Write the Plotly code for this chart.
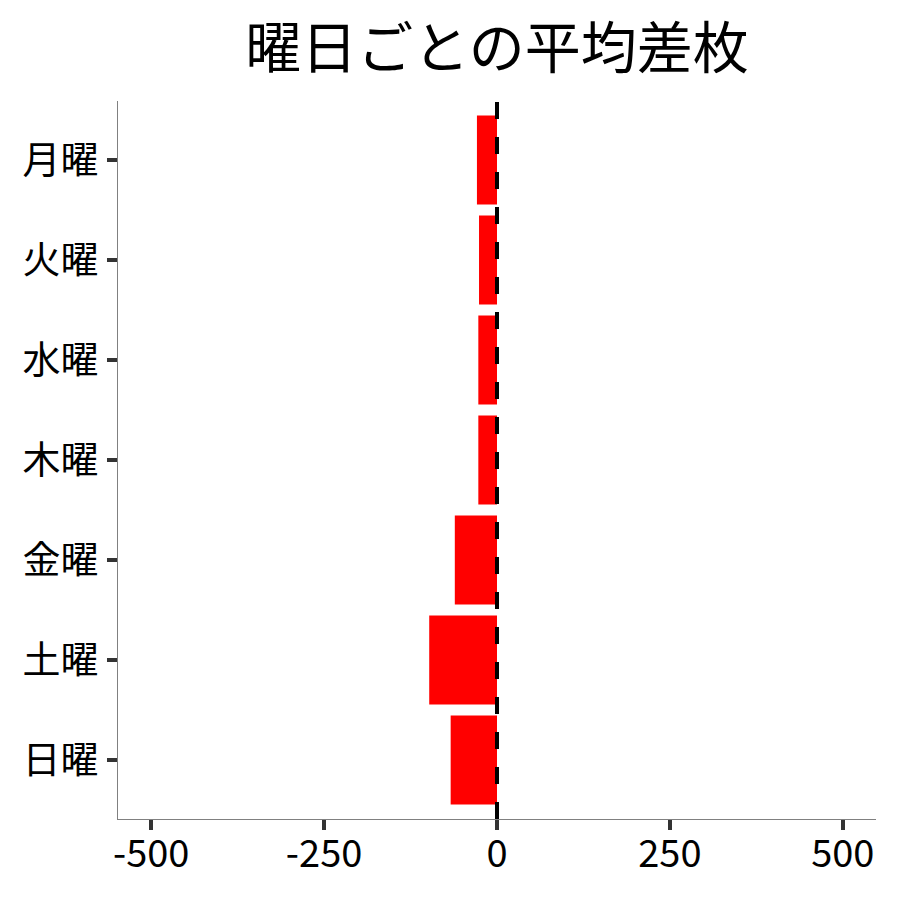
import plotly.graph_objects as go

# 曜日ごとの平均差枚
days = ['月曜', '火曜', '水曜', '木曜', '金曜', '土曜', '日曜']
avg_diff = [-29, -26, -27, -27, -61, -98, -67]

x_ticks = [-500, -250, 0, 250, 500]
x_labels = ['-500', '-250', '0', '250', '500']

fig = go.Figure()
fig.add_trace(go.Bar(
    x=avg_diff, y=days, orientation='h',
    marker=dict(color='#ff0000', line=dict(width=0)),
))

# 0 の基準線 (破線)
fig.add_shape(type='line', x0=0, x1=0, xref='x', y0=0, y1=1, yref='paper',
              line=dict(color='black', width=4, dash='17px,18px'), layer='above')

fig.update_layout(
    width=900, height=900,
    title=dict(text='曜日ごとの平均差枚', x=0.5, xref='paper', xanchor='center',
               y=0.955, yanchor='middle',
               font=dict(size=56, color='black', family='Noto Sans CJK JP')),
    font=dict(family='Noto Sans CJK JP', size=38, color='black'),
    plot_bgcolor='white', paper_bgcolor='white',
    margin=dict(l=110, r=32, t=93, b=89),
    bargap=0.11,
    showlegend=False,
    xaxis=dict(range=[-548, 548], tickvals=x_ticks, ticktext=x_labels,
               showgrid=False, zeroline=False, showline=True, linecolor='#808080', linewidth=1,
               ticks='outside', ticklen=10, tickwidth=4, tickcolor='#333333',
               ticklabelstandoff=-9),
    yaxis=dict(categoryorder='array', categoryarray=days, range=[6.59, -0.59],
               showgrid=False, zeroline=False, showline=True, linecolor='#808080', linewidth=1,
               ticks='outside', ticklen=10, tickwidth=4, tickcolor='#333333',
               ticklabelstandoff=1),
)

fig.write_html('out.html')
